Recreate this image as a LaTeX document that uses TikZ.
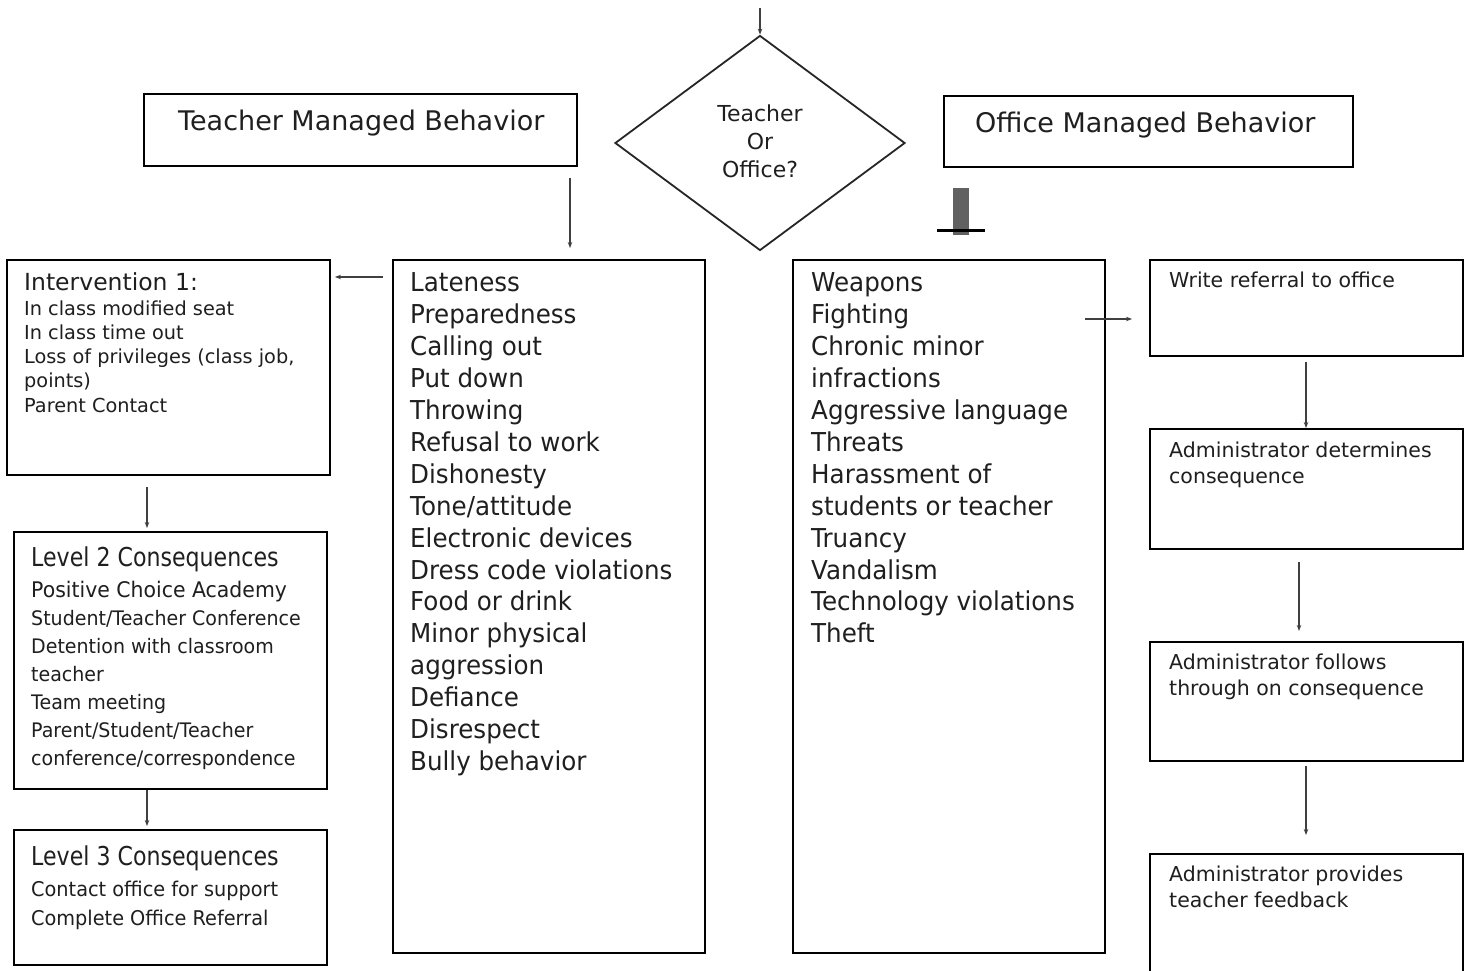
\documentclass[tikz,border=0pt]{standalone}
\usepackage{fontspec}
\setmainfont{DejaVu Sans}
\newfontfamily\condfont[FakeStretch=0.95]{DejaVu Sans}
\newfontfamily\titlefont[FakeStretch=0.85]{DejaVu Sans}
\newfontfamily\listfont[FakeStretch=0.945]{DejaVu Sans}
\usetikzlibrary{arrows.meta,shapes.geometric}
\newcommand{\fs}[2]{\fontsize{#1}{#2}\selectfont}
\begin{document}
\begin{tikzpicture}[x=1pt,y=-1pt,
  box/.style={draw=black,line width=1.8pt,rectangle,inner sep=0pt,anchor=north west},
  txt/.style={anchor=north west,align=left,inner sep=0pt,text=black!88},
  arr/.style={draw=black!75,line width=1.2pt,-{Stealth[length=6pt,width=4.5pt]}}]
\useasboundingbox[fill=white] (0,0) rectangle (1469,971);

% top decision
\node[diamond,draw=black!85,line width=1.8pt,minimum width=290,minimum height=215,inner sep=0pt,
      align=center,text=black!88,font=\fs{22}{28}] (dec) at (760,143) {\raisebox{3pt}{Teacher}\\\raisebox{3pt}{Or}\\\raisebox{3pt}{Office?}};
\coordinate (topin) at (760,8);
\draw[arr] (topin) -- (dec.north);

% headers
\node[box,minimum width=433,minimum height=72] (tmb) at (143,93) {};
\node[txt,font=\fs{27}{32}] (tmbt) at (178,109.5) {Teacher Managed Behavior};
\node[box,minimum width=409,minimum height=71] (omb) at (943,95) {};
\node[txt,font=\fs{27}{32}] (ombt) at (975,111.5) {Office Managed Behavior};

% thick mark under office header
\node[fill=black!62,minimum width=16,minimum height=47,inner sep=0pt,anchor=north west] (tbar) at (953,188) {};
\coordinate (tl) at (937,230);
\coordinate (tr) at (985,230);
\draw[line width=3pt,black] (tl) -- (tr);

% teacher list
\node[box,minimum width=312,minimum height=693] (tlist) at (392,259) {};
\node[txt,font=\listfont\fs{26}{31.93}] (tlistt) at (410,272.5) {Lateness\\Preparedness\\Calling out\\Put down\\Throwing\\Refusal to work\\Dishonesty\\Tone/attitude\\Electronic devices\\Dress code violations\\Food or drink\\Minor physical\\aggression\\Defiance\\Disrespect\\Bully behavior};
\coordinate (a1s) at (570,178);
\coordinate (a1e) at (570,248);
\draw[arr] (a1s) -- (a1e);

% office list
\node[box,minimum width=312,minimum height=693] (olist) at (792,259) {};
\node[txt,font=\listfont\fs{26}{31.93}] (olistt) at (811,272.5) {Weapons\\Fighting\\Chronic minor\\infractions\\Aggressive language\\Threats\\Harassment of\\students or teacher\\Truancy\\Vandalism\\Technology violations\\Theft};

% intervention 1
\node[box,minimum width=323,minimum height=215] (int1) at (6,259) {};
\node[txt,font=\fs{19.3}{24.3}] (int1t) at (24,272) {{\fs{23.5}{24}Intervention 1:}\\[0.7pt]In class modified seat\\In class time out\\Loss of privileges (class job,\\points)\\Parent Contact};
\coordinate (a2s) at (383,277);
\coordinate (a2e) at (335,277);
\draw[arr] (a2s) -- (a2e);

% level 2
\node[box,minimum width=313,minimum height=257] (lv2) at (13,531) {};
\node[txt,font=\condfont\fs{20}{28}] (lv2t) at (31,546.5) {{\titlefont\fs{26}{28}Level 2 Consequences}\\[3pt]{\fs{21.5}{28}Positive Choice Academy}\\Student/Teacher Conference\\Detention with classroom\\teacher\\Team meeting\\Parent/Student/Teacher\\conference/correspondence};
\coordinate (a3s) at (147,487);
\coordinate (a3e) at (147,528);
\draw[arr] (a3s) -- (a3e);

% level 3
\node[box,minimum width=313,minimum height=135] (lv3) at (13,829) {};
\node[txt,font=\condfont\fs{20.3}{29}] (lv3t) at (31,845.5) {{\titlefont\fs{26}{28}Level 3 Consequences}\\[2.5pt]Contact office for support\\Complete Office Referral};
\coordinate (a4s) at (147,790);
\coordinate (a4e) at (147,826);
\draw[arr] (a4s) -- (a4e);

% office chain
\node[box,minimum width=313,minimum height=96] (wr) at (1149,259) {};
\node[txt,font=\fs{20.5}{26}] (wrt) at (1169,271.5) {Write referral to office};
\coordinate (a5s) at (1085,319);
\coordinate (a5e) at (1132,319);
\draw[arr] (a5s) -- (a5e);

\node[box,minimum width=313,minimum height=120] (ad) at (1149,428) {};
\node[txt,font=\fs{20.5}{26}] (adt) at (1169,441.5) {Administrator determines\\consequence};
\coordinate (a6s) at (1306,362);
\draw[arr] (a6s) -- (ad.north -| a6s);

\node[box,minimum width=313,minimum height=119] (af) at (1149,641) {};
\node[txt,font=\fs{20.5}{26}] (aft) at (1169,653.5) {Administrator follows\\through on consequence};
\coordinate (a7s) at (1299,562);
\coordinate (a7e) at (1299,631);
\draw[arr] (a7s) -- (a7e);

\node[box,minimum width=313,minimum height=170] (ap) at (1149,853) {};
\node[txt,font=\fs{20.5}{26}] (apt) at (1169,865.5) {Administrator provides\\teacher feedback};
\coordinate (a8s) at (1306,766);
\coordinate (a8e) at (1306,835);
\draw[arr] (a8s) -- (a8e);
\end{tikzpicture}
\end{document}
